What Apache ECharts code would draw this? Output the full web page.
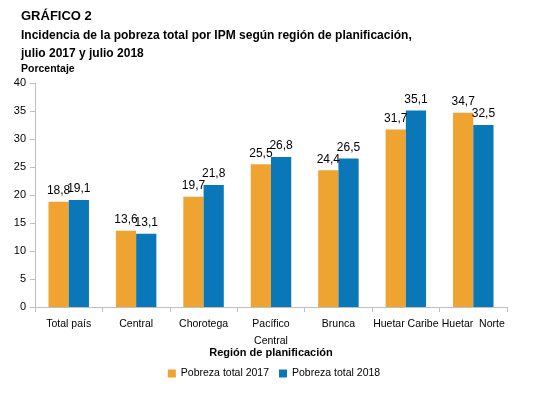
<!DOCTYPE html>
<html><head><meta charset="utf-8">
<script src="https://cdn.jsdelivr.net/npm/echarts@6/dist/echarts.min.js"></script>
<style>html,body{margin:0;padding:0;background:#fff}#c{width:548px;height:393px}</style>
</head><body><div id="c"></div>
<script>
const categories = ['Total país','Central','Chorotega','Pacífico\nCentral','Brunca','Huetar Caribe','Huetar  Norte'];
const pobreza2017 = [18.8, 13.6, 19.7, 25.5, 24.4, 31.7, 34.7];
const pobreza2018 = [19.1, 13.1, 21.8, 26.8, 26.5, 35.1, 32.5];
const seriesNames = ['Pobreza total 2017','Pobreza total 2018'];
const yTicks = {min: 0, max: 40, interval: 5};

const chart = echarts.init(document.getElementById('c'), null, {renderer: 'canvas'});
const fmt = p => p.value.toFixed(1).replace('.', ',');
const FONT = 'Liberation Sans';
chart.setOption({
  animation: false,
  textStyle: {fontFamily: FONT},
  title: [
    {text: 'GRÁFICO 2', left: 16, top: 5, textStyle: {fontFamily: FONT, fontSize: 13, fontWeight: 'bold', color: '#000'}},
    {text: 'Incidencia de la pobreza total por IPM según región de planificación,\njulio 2017 y julio 2018', left: 16, top: 22, textStyle: {fontFamily: FONT, fontSize: 12, fontWeight: 'bold', color: '#000', lineHeight: 18}},
    {text: 'Porcentaje', left: 16, top: 59, textStyle: {fontFamily: FONT, fontSize: 10.5, fontWeight: 'bold', color: '#000'}}
  ],
  legend: {
    data: seriesNames, bottom: 9, left: 'center', itemWidth: 8, itemHeight: 8, itemGap: 10,
    icon: 'rect', textStyle: {fontFamily: FONT, fontSize: 10.5, color: '#000'}
  },
  grid: {left: 35, right: 41, top: 83, bottom: 86, containLabel: false},
  xAxis: {
    type: 'category', data: categories,
    name: 'Región de planificación', nameLocation: 'middle', nameGap: 40, nameMoveOverlap: false,
    nameTextStyle: {fontFamily: FONT, fontSize: 11, fontWeight: 'bold', color: '#000'},
    axisLine: {lineStyle: {color: '#bfbfbf'}},
    axisTick: {show: true, length: 5, lineStyle: {color: '#bfbfbf'}},
    axisLabel: {fontFamily: FONT, fontSize: 10.5, color: '#000', interval: 0, margin: 9, lineHeight: 17}
  },
  yAxis: {
    type: 'value', min: yTicks.min, max: yTicks.max, interval: yTicks.interval,
    splitLine: {show: false},
    axisLine: {show: true, lineStyle: {color: '#bfbfbf'}},
    axisTick: {show: true, length: 5, lineStyle: {color: '#bfbfbf'}},
    axisLabel: {fontFamily: FONT, fontSize: 11, color: '#000', margin: 9}
  },
  series: [
    {name: seriesNames[0], type: 'bar', data: pobreza2017, barGap: '0%', barCategoryGap: '40%',
     itemStyle: {color: '#EFA431'},
     label: {show: true, position: 'top', formatter: fmt, fontFamily: FONT, fontSize: 12, color: '#000', distance: 5}},
    {name: seriesNames[1], type: 'bar', data: pobreza2018, barGap: '0%', barCategoryGap: '40%',
     itemStyle: {color: '#0A78B8'},
     label: {show: true, position: 'top', formatter: fmt, fontFamily: FONT, fontSize: 12, color: '#000', distance: 5}}
  ]
});
</script></body></html>
